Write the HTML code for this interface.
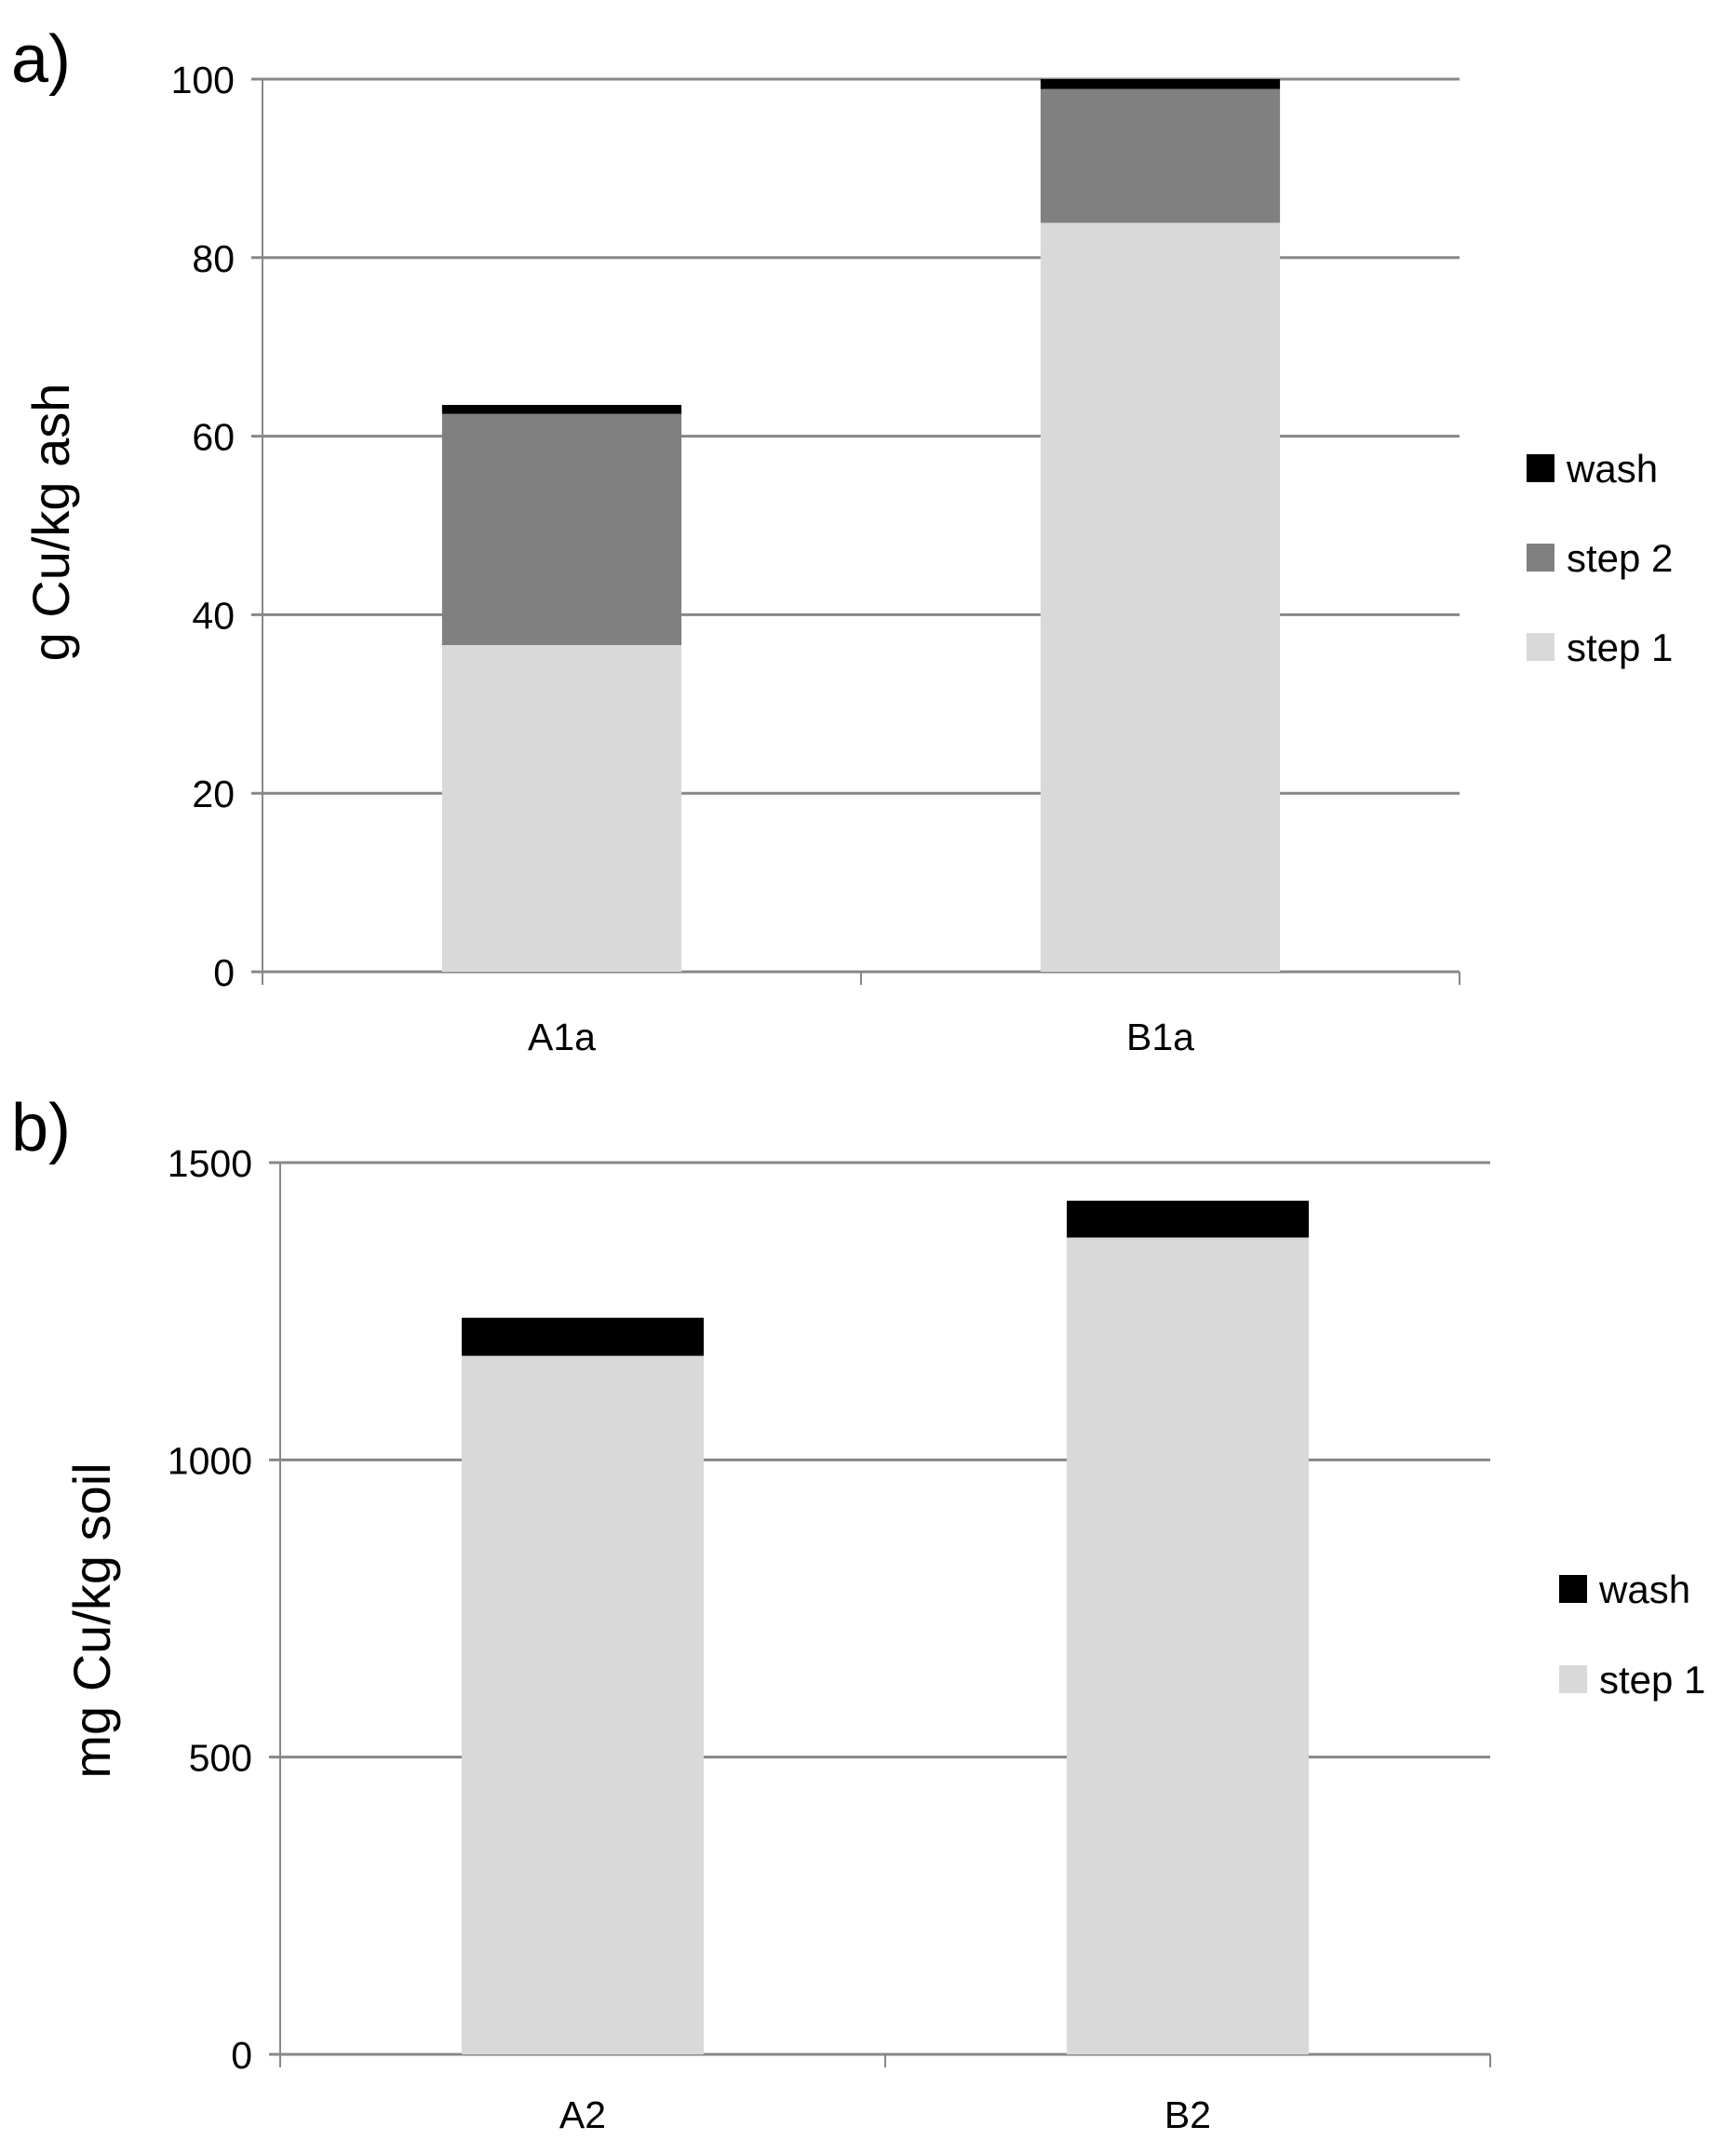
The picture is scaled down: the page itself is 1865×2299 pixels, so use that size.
<!DOCTYPE html>
<html><head><meta charset="utf-8">
<style>
html,body{margin:0;padding:0;background:#fff;}
svg{display:block;font-family:"Liberation Sans",sans-serif;}
</style></head>
<body>
<svg id="chart" width="1865" height="2299" viewBox="0 0 1865 2299" xmlns="http://www.w3.org/2000/svg"></svg>
<script>
// Panel a data
const catsA = ["A1a", "B1a"];
const step1A = [36.6, 83.9];
const step2A = [25.9, 15.0];
const washA = [1.0, 1.1];
const ticksA = [0, 20, 40, 60, 80, 100];
// Panel b data
const catsB = ["A2", "B2"];
const step1B = [1175, 1374];
const washB = [64, 62];
const ticksB = [0, 500, 1000, 1500];

const svg = document.getElementById('chart');
const NS = 'http://www.w3.org/2000/svg';
function mk(tag, attrs, parent) {
  const e = document.createElementNS(NS, tag);
  for (const k in attrs) e.setAttribute(k, attrs[k]);
  (parent || svg).appendChild(e);
  return e;
}
const colors = {step1: '#d9d9d9', step2: '#808080', wash: '#000000'};

function panel(cfg) {
  const g = mk('g', {});
  
  
  const y = v => cfg.y0 - v / cfg.max * (cfg.y0 - cfg.yTop);
  const bandW = (cfg.right - cfg.left) / cfg.cats.length;
  cfg.ticks.forEach(t => {
    const yy = y(t);
    const l = mk('line', {x1: cfg.left - 12, x2: cfg.right, y1: yy, y2: yy, stroke: '#878787', 'stroke-width': 3}, g);
    
    
    const tx = mk('text', {x: cfg.left - 30, y: yy + 15, 'text-anchor': 'end', 'font-size': 41, fill: '#000'}, g);
    tx.textContent = t;
    
    
  });
  const ya = mk('line', {x1: cfg.left, x2: cfg.left, y1: cfg.yTop, y2: cfg.y0 + 12, stroke: '#878787', 'stroke-width': 2}, g);
  
  
  for (let i = 0; i <= cfg.cats.length; i++) {
    const xx = cfg.left + i * bandW;
    const tk = mk('line', {x1: xx, x2: xx, y1: cfg.y0, y2: cfg.y0 + 14, stroke: '#878787', 'stroke-width': 2}, g);
    
    
  }
  cfg.cats.forEach((c, i) => {
    const cx = cfg.left + (i + 0.5) * bandW;
    const bw = bandW * 0.4;
    let base = 0;
    cfg.series.forEach(s => {
      const v = s.vals[i];
      const r = mk('rect', {x: cx - bw / 2, y: y(base + v), width: bw, height: y(base) - y(base + v), fill: colors[s.key]}, g);
      
      
      base += v;
    });
    const lab = mk('text', {x: cx, y: cfg.labelY, 'text-anchor': 'middle', 'font-size': 41, fill: '#000'}, g);
    lab.textContent = c;
    
    
  });
  const yt = mk('text', {x: 0, y: 0, 'text-anchor': 'middle', 'font-size': 56, fill: '#000',
    transform: 'translate(' + cfg.titleX + ',' + cfg.titleY + ') rotate(-90)'}, g);
  yt.textContent = cfg.title;
  
  
  const pl = mk('text', {x: 12, y: cfg.letterY, 'font-size': 72, fill: '#000'}, g);
  pl.textContent = cfg.letter;
  
  
  cfg.legend.forEach((L, j) => {
    const ly = cfg.legendY[j];
    const sq = mk('rect', {x: cfg.legX, y: ly - 15, width: 30, height: 30, fill: colors[L.key]}, g);
    
    
    const lt = mk('text', {x: cfg.legX + 43, y: ly + 15, 'font-size': 42, fill: '#000'}, g);
    lt.textContent = L.label;
    
    
  });
}

panel({name: 'panel-a', cats: catsA, max: 100, ticks: ticksA, left: 282, right: 1568, yTop: 85, y0: 1044,
  labelY: 1128, title: 'g Cu/kg ash', titleX: 74, titleY: 561, letter: 'a)', letterY: 88,
  series: [{key: 'step1', vals: step1A}, {key: 'step2', vals: step2A}, {key: 'wash', vals: washA}],
  legend: [{key: 'wash', label: 'wash'}, {key: 'step2', label: 'step 2'}, {key: 'step1', label: 'step 1'}],
  legendY: [503, 599, 695], legX: 1640});

panel({name: 'panel-b', cats: catsB, max: 1500, ticks: ticksB, left: 301, right: 1601, yTop: 1249, y0: 2207,
  labelY: 2286, title: 'mg Cu/kg soil', titleX: 118, titleY: 1741, letter: 'b)', letterY: 1236,
  series: [{key: 'step1', vals: step1B}, {key: 'wash', vals: washB}],
  legend: [{key: 'wash', label: 'wash'}, {key: 'step1', label: 'step 1'}],
  legendY: [1707, 1804], legX: 1675});
</script>
</body></html>
